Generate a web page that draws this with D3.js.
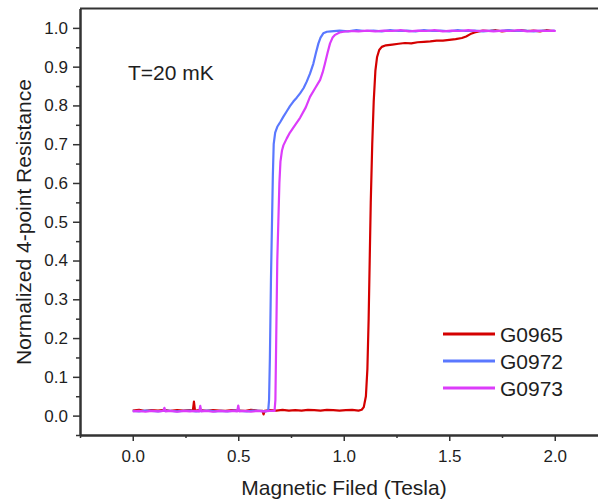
<!DOCTYPE html>
<html><head><meta charset="utf-8">
<script src="https://cdn.jsdelivr.net/npm/d3@7"></script>
<style>
body{margin:0;background:#fff;overflow:hidden;}
text{font-family:"Liberation Sans",Arial,sans-serif;fill:#1e1e1e;}
</style></head>
<body><svg id="c" width="598" height="504"></svg>
<script>
const seriesNames = ["G0965","G0972","G0973"];
const seriesColors = ["#d40000","#5a78ff","#dc3cfa"];
const xTicks = [0.0,0.5,1.0,1.5,2.0];
const xMinorTicks = [-0.25,0.25,0.75,1.25,1.75];
const yTicks = [0.0,0.1,0.2,0.3,0.4,0.5,0.6,0.7,0.8,0.9,1.0];
const yMinorTicks = [-0.05,0.05,0.15,0.25,0.35,0.45,0.55,0.65,0.75,0.85,0.95];

const G0965 = [[0.00,0.013],[0.03,0.015],[0.06,0.012],[0.09,0.014],[0.12,0.013],[0.15,0.015],[0.18,0.012],[0.21,0.014],[0.24,0.013],[0.27,0.014],[0.285,0.013],[0.29,0.036],[0.295,0.013],[0.32,0.014],[0.35,0.012],[0.38,0.014],[0.41,0.013],[0.44,0.012],[0.47,0.014],[0.50,0.013],[0.53,0.012],[0.56,0.015],[0.59,0.013],[0.615,0.012],[0.62,0.003],[0.625,0.012],[0.65,0.014],[0.68,0.013],[0.71,0.015],[0.74,0.013],[0.77,0.014],[0.80,0.013],[0.83,0.015],[0.86,0.014],[0.89,0.013],[0.92,0.015],[0.95,0.014],[0.98,0.013],[1.01,0.014],[1.04,0.015],[1.07,0.013],[1.085,0.015],[1.095,0.022],[1.105,0.05],[1.112,0.12],[1.118,0.25],[1.123,0.40],[1.128,0.55],[1.135,0.70],[1.142,0.81],[1.15,0.89],[1.158,0.925],[1.168,0.943],[1.18,0.951],[1.20,0.955],[1.23,0.957],[1.26,0.959],[1.29,0.961],[1.32,0.960],[1.35,0.963],[1.38,0.964],[1.41,0.965],[1.44,0.967],[1.47,0.967],[1.50,0.969],[1.53,0.971],[1.56,0.974],[1.58,0.978],[1.60,0.984],[1.62,0.988],[1.64,0.991],[1.66,0.993],[1.69,0.992],[1.72,0.994],[1.75,0.991],[1.78,0.993],[1.81,0.992],[1.84,0.994],[1.87,0.992],[1.90,0.993],[1.93,0.991],[1.96,0.994],[1.99,0.992]];

const G0972 = [[0.00,0.012],[0.03,0.011],[0.06,0.013],[0.09,0.012],[0.12,0.011],[0.15,0.013],[0.18,0.012],[0.21,0.011],[0.24,0.012],[0.27,0.013],[0.30,0.011],[0.33,0.012],[0.36,0.013],[0.39,0.011],[0.42,0.012],[0.45,0.011],[0.48,0.013],[0.51,0.012],[0.54,0.011],[0.57,0.013],[0.60,0.012],[0.63,0.011],[0.642,0.013],[0.646,0.04],[0.650,0.15],[0.655,0.35],[0.660,0.50],[0.664,0.62],[0.668,0.70],[0.675,0.73],[0.685,0.745],[0.70,0.758],[0.714,0.771],[0.73,0.785],[0.745,0.798],[0.761,0.81],[0.777,0.82],[0.793,0.831],[0.81,0.845],[0.825,0.862],[0.84,0.882],[0.856,0.908],[0.868,0.935],[0.88,0.96],[0.89,0.975],[0.903,0.986],[0.92,0.99],[0.94,0.991],[0.98,0.993],[1.02,0.991],[1.06,0.994],[1.10,0.992],[1.14,0.993],[1.18,0.991],[1.22,0.994],[1.26,0.992],[1.30,0.993],[1.34,0.991],[1.38,0.994],[1.42,0.992],[1.46,0.993],[1.50,0.991],[1.54,0.994],[1.58,0.992],[1.62,0.993],[1.66,0.991],[1.70,0.993],[1.74,0.992],[1.78,0.994],[1.82,0.992],[1.86,0.993],[1.90,0.991],[1.94,0.993],[1.98,0.992],[2.00,0.993]];

const G0973 = [[0.00,0.011],[0.03,0.012],[0.06,0.010],[0.09,0.012],[0.12,0.011],[0.145,0.012],[0.15,0.02],[0.155,0.011],[0.18,0.012],[0.21,0.010],[0.24,0.012],[0.27,0.011],[0.30,0.012],[0.315,0.011],[0.32,0.025],[0.325,0.011],[0.35,0.012],[0.38,0.010],[0.41,0.012],[0.44,0.011],[0.47,0.012],[0.495,0.011],[0.50,0.026],[0.505,0.011],[0.53,0.012],[0.56,0.010],[0.59,0.012],[0.62,0.011],[0.65,0.012],[0.672,0.012],[0.676,0.04],[0.680,0.2],[0.685,0.4],[0.690,0.5],[0.695,0.6],[0.700,0.655],[0.707,0.683],[0.714,0.697],[0.73,0.715],[0.745,0.73],[0.77,0.75],[0.793,0.768],[0.82,0.795],[0.84,0.822],[0.865,0.845],[0.888,0.866],[0.90,0.885],[0.911,0.908],[0.923,0.935],[0.935,0.96],[0.947,0.975],[0.959,0.982],[0.98,0.988],[1.00,0.99],[1.03,0.992],[1.07,0.991],[1.11,0.993],[1.15,0.991],[1.19,0.993],[1.23,0.992],[1.27,0.994],[1.31,0.991],[1.35,0.993],[1.39,0.992],[1.43,0.994],[1.47,0.991],[1.51,0.993],[1.55,0.992],[1.59,0.994],[1.63,0.992],[1.67,0.993],[1.71,0.991],[1.75,0.993],[1.79,0.992],[1.83,0.994],[1.87,0.991],[1.91,0.993],[1.95,0.992],[1.99,0.993],[2.005,0.992]];

const seriesData = [G0965, G0972, G0973];

const svg = d3.select("#c");
const x = d3.scaleLinear().domain([-0.25,2.25]).range([80,607.5]);
const y = d3.scaleLinear().domain([-0.05,1.05]).range([435,8.5]);

const line = d3.line().x(d=>x(d[0])).y(d=>y(d[1]));
const g = svg.append("g");
seriesData.forEach((s,i)=>{
  g.append("path").datum(s).attr("d",line).attr("fill","none")
   .attr("stroke",seriesColors[i]).attr("stroke-width",2.2).attr("stroke-linejoin","round");
});

// top frame line (the right border lies outside the visible area)
svg.append("line").attr("x1",x(-0.25)).attr("x2",x(2.25)).attr("y1",y(1.05)).attr("y2",y(1.05))
  .attr("stroke","#333").attr("stroke-width",2);

const axisStyle = (sel)=>{
  sel.select(".domain").attr("stroke","#333").attr("stroke-width",2);
  sel.selectAll(".tick line").attr("stroke","#333").attr("stroke-width",1.5);
};
const xa = svg.append("g").attr("transform",`translate(0,${y(-0.05)})`)
  .call(d3.axisBottom(x).tickValues(xTicks).tickSize(6).tickSizeOuter(0).tickPadding(9).tickFormat(d3.format(".1f")));
axisStyle(xa);
xa.selectAll("text").attr("font-size",17).attr("font-family","Liberation Sans, Arial").attr("fill","#1e1e1e");
const xm = svg.append("g").attr("transform",`translate(0,${y(-0.05)})`)
  .call(d3.axisBottom(x).tickValues(xMinorTicks).tickSize(3).tickSizeOuter(0).tickFormat(""));
axisStyle(xm);

const ya = svg.append("g").attr("transform",`translate(${x(-0.25)},0)`)
  .call(d3.axisLeft(y).tickValues(yTicks).tickSize(7).tickSizeOuter(0).tickPadding(5).tickFormat(d3.format(".1f")));
axisStyle(ya);
ya.selectAll("text").attr("font-size",17).attr("font-family","Liberation Sans, Arial").attr("fill","#1e1e1e");
const ym = svg.append("g").attr("transform",`translate(${x(-0.25)},0)`)
  .call(d3.axisLeft(y).tickValues(yMinorTicks).tickSize(4).tickSizeOuter(0).tickFormat(""));
axisStyle(ym);

svg.append("text").attr("x",344).attr("y",495).attr("text-anchor","middle").attr("font-size",21)
  .text("Magnetic Filed (Tesla)");
svg.append("text").attr("transform","translate(31,222) rotate(-90)").attr("text-anchor","middle").attr("font-size",21)
  .text("Normalized 4-point Resistance");
svg.append("text").attr("x",128).attr("y",80).attr("font-size",21).text("T=20 mK");

const legY = [334,361,388];
seriesNames.forEach((n,i)=>{
  svg.append("line").attr("x1",443).attr("x2",495).attr("y1",legY[i]).attr("y2",legY[i])
    .attr("stroke",seriesColors[i]).attr("stroke-width",3);
  svg.append("text").attr("x",500).attr("y",legY[i]+7.5).attr("font-size",21).text(n);
});
</script></body></html>
